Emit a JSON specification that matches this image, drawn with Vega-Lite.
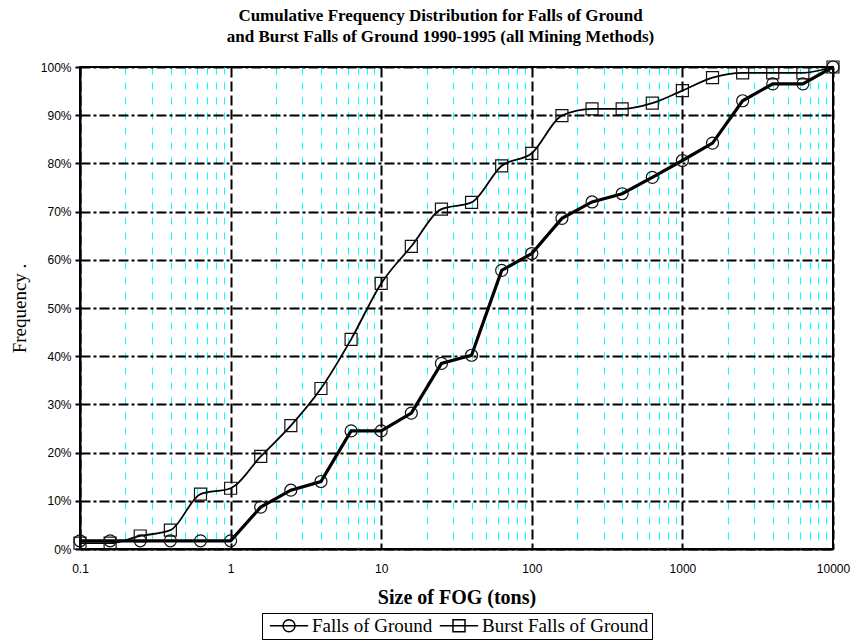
{
  "$schema": "https://vega.github.io/schema/vega-lite/v6.json",
  "width": 753,
  "height": 482,
  "autosize": {"type": "none"},
  "padding": {"left": 80, "top": 67, "right": 18, "bottom": 91},
  "background": "white",
  "config": {
    "view": {"stroke": "black", "strokeWidth": 2},
    "legend": {"labelFont": "Liberation Serif", "labelFontSize": 19, "labelColor": "black", "labelLimit": 400}
  },
  "title": {
    "text": ["Cumulative Frequency Distribution for Falls of Ground", "and Burst Falls of Ground 1990-1995 (all Mining Methods)"],
    "font": "Liberation Serif", "fontSize": 17, "fontWeight": "bold", "color": "black",
    "anchor": "middle", "frame": "group", "offset": 13, "lineHeight": 21, "dx": -16
  },
  "data": {"values": [
    {"size": 0.1, "series": "Falls of Ground", "freq": 0.017},
    {"size": 0.1585, "series": "Falls of Ground", "freq": 0.017},
    {"size": 0.2512, "series": "Falls of Ground", "freq": 0.017},
    {"size": 0.3981, "series": "Falls of Ground", "freq": 0.017},
    {"size": 0.631, "series": "Falls of Ground", "freq": 0.017},
    {"size": 1, "series": "Falls of Ground", "freq": 0.017},
    {"size": 1.585, "series": "Falls of Ground", "freq": 0.087},
    {"size": 2.512, "series": "Falls of Ground", "freq": 0.122},
    {"size": 3.981, "series": "Falls of Ground", "freq": 0.14},
    {"size": 6.31, "series": "Falls of Ground", "freq": 0.245},
    {"size": 10, "series": "Falls of Ground", "freq": 0.245},
    {"size": 15.85, "series": "Falls of Ground", "freq": 0.282},
    {"size": 25.12, "series": "Falls of Ground", "freq": 0.385},
    {"size": 39.81, "series": "Falls of Ground", "freq": 0.402},
    {"size": 63.1, "series": "Falls of Ground", "freq": 0.578},
    {"size": 100, "series": "Falls of Ground", "freq": 0.613},
    {"size": 158.5, "series": "Falls of Ground", "freq": 0.686},
    {"size": 251.2, "series": "Falls of Ground", "freq": 0.72},
    {"size": 398.1, "series": "Falls of Ground", "freq": 0.737},
    {"size": 631, "series": "Falls of Ground", "freq": 0.771},
    {"size": 1000, "series": "Falls of Ground", "freq": 0.806},
    {"size": 1585, "series": "Falls of Ground", "freq": 0.842},
    {"size": 2512, "series": "Falls of Ground", "freq": 0.93},
    {"size": 3981, "series": "Falls of Ground", "freq": 0.965},
    {"size": 6310, "series": "Falls of Ground", "freq": 0.965},
    {"size": 10000, "series": "Falls of Ground", "freq": 1.0},
    {"size": 0.1, "series": "Burst Falls of Ground", "freq": 0.012},
    {"size": 0.1585, "series": "Burst Falls of Ground", "freq": 0.012},
    {"size": 0.2512, "series": "Burst Falls of Ground", "freq": 0.027},
    {"size": 0.3981, "series": "Burst Falls of Ground", "freq": 0.039},
    {"size": 0.631, "series": "Burst Falls of Ground", "freq": 0.114},
    {"size": 1, "series": "Burst Falls of Ground", "freq": 0.126},
    {"size": 1.585, "series": "Burst Falls of Ground", "freq": 0.192},
    {"size": 2.512, "series": "Burst Falls of Ground", "freq": 0.256},
    {"size": 3.981, "series": "Burst Falls of Ground", "freq": 0.333},
    {"size": 6.31, "series": "Burst Falls of Ground", "freq": 0.435},
    {"size": 10, "series": "Burst Falls of Ground", "freq": 0.551},
    {"size": 15.85, "series": "Burst Falls of Ground", "freq": 0.628},
    {"size": 25.12, "series": "Burst Falls of Ground", "freq": 0.705},
    {"size": 39.81, "series": "Burst Falls of Ground", "freq": 0.719},
    {"size": 63.1, "series": "Burst Falls of Ground", "freq": 0.795},
    {"size": 100, "series": "Burst Falls of Ground", "freq": 0.821},
    {"size": 158.5, "series": "Burst Falls of Ground", "freq": 0.899},
    {"size": 251.2, "series": "Burst Falls of Ground", "freq": 0.913},
    {"size": 398.1, "series": "Burst Falls of Ground", "freq": 0.913},
    {"size": 631, "series": "Burst Falls of Ground", "freq": 0.925},
    {"size": 1000, "series": "Burst Falls of Ground", "freq": 0.951},
    {"size": 1585, "series": "Burst Falls of Ground", "freq": 0.978},
    {"size": 2512, "series": "Burst Falls of Ground", "freq": 0.988},
    {"size": 3981, "series": "Burst Falls of Ground", "freq": 0.988},
    {"size": 6310, "series": "Burst Falls of Ground", "freq": 0.988},
    {"size": 10000, "series": "Burst Falls of Ground", "freq": 1.0}
  ]},
  "encoding": {
    "x": {
      "field": "size", "type": "quantitative",
      "scale": {"type": "log", "domain": [0.1, 10000], "nice": false},
      "axis": {
        "values": [0.1,0.2,0.3,0.4,0.5,0.6,0.7,0.8,0.9,1,2,3,4,5,6,7,8,9,10,20,30,40,50,60,70,80,90,100,200,300,400,500,600,700,800,900,1000,2000,3000,4000,5000,6000,7000,8000,9000,10000],
        "format": "~g",
        "labelExpr": "abs(log(datum.value)/LN10 - round(log(datum.value)/LN10)) < 0.001 ? datum.label : ''",
        "grid": true,
        "gridColor": {"condition": {"test": "abs(log(datum.value)/LN10 - round(log(datum.value)/LN10)) < 0.001", "value": "black"}, "value": "#00FFFF"},
        "gridWidth": {"condition": {"test": "abs(log(datum.value)/LN10 - round(log(datum.value)/LN10)) < 0.001", "value": 2}, "value": 1},
        "gridDash": {"condition": {"test": "abs(log(datum.value)/LN10 - round(log(datum.value)/LN10)) < 0.001", "value": [10, 4]}, "value": [7, 8]},
        "gridOpacity": 1,
        "ticks": false,
        "domainColor": "black", "domainWidth": 2,
        "labelFont": "Liberation Sans", "labelFontSize": 12, "labelColor": "black",
        "labelPadding": 14, "labelOverlap": false, "labelFlush": false,
        "title": "Size of FOG (tons)",
        "titleFont": "Liberation Serif", "titleFontSize": 20, "titleFontWeight": "bold", "titleColor": "black",
        "titlePadding": 13
      }
    },
    "y": {
      "field": "freq", "type": "quantitative",
      "scale": {"domain": [0, 1], "nice": false},
      "axis": {
        "values": [0,0.1,0.2,0.3,0.4,0.5,0.6,0.7,0.8,0.9,1],
        "format": ".0%",
        "grid": true, "gridColor": "black", "gridWidth": 2, "gridDash": [10, 3, 3, 3], "gridOpacity": 1,
        "ticks": true, "tickSize": 5, "tickWidth": 2, "tickColor": "black",
        "domainColor": "black", "domainWidth": 2,
        "labelFont": "Liberation Sans", "labelFontSize": 12, "labelColor": "black", "labelPadding": 4,
        "title": "Frequency .",
        "titleFont": "Liberation Serif", "titleFontSize": 19, "titleFontWeight": "normal", "titleColor": "black",
        "titlePadding": 11
      }
    }
  },
  "layer": [
    {
      "transform": [{"filter": "datum.series === 'Falls of Ground'"}],
      "mark": {"type": "line", "color": "black", "strokeWidth": 3.2}
    },
    {
      "transform": [{"filter": "datum.series === 'Burst Falls of Ground'"}],
      "mark": {"type": "line", "color": "black", "strokeWidth": 1.8, "interpolate": "monotone"}
    },
    {
      "mark": {"type": "point", "filled": false, "size": 144, "strokeWidth": 1.2, "color": "#111", "opacity": 1},
      "encoding": {
        "shape": {
          "field": "series", "type": "nominal",
          "scale": {"domain": ["Falls of Ground", "Burst Falls of Ground"], "range": ["circle", "square"]},
          "legend": null
        }
      }
    },
    {
      "transform": [{"filter": "false"}],
      "mark": {"type": "point", "filled": false, "size": 144, "color": "black", "opacity": 1},
      "encoding": {
        "shape": {
          "field": "series", "type": "nominal",
          "scale": {"domain": ["Falls of Ground", "Burst Falls of Ground"], "range": ["M-3.2,0H3.2M-1,0A1,1,0,1,0,1,0A1,1,0,1,0,-1,0", "M-3.2,0H3.2M-1,-1H1V1H-1Z"]},
          "legend": {
            "orient": "none", "legendX": 182, "legendY": 546, "direction": "horizontal",
            "title": null,
            "labelFont": "Liberation Serif", "labelFontSize": 19, "labelColor": "black", "labelLimit": 400,
            "strokeColor": "black", "fillColor": "white", "padding": 3,
            "symbolOffset": 14.5, "labelOffset": 13.5, "columnPadding": 2, "symbolSize": 144,
            "symbolStrokeColor": "black", "symbolFillColor": "transparent", "symbolOpacity": 1
          }
        },
        "strokeWidth": {
          "field": "series", "type": "nominal",
          "scale": {"type": "ordinal", "domain": ["Falls of Ground", "Burst Falls of Ground"], "range": [2.6, 1.8]},
          "legend": {
            "orient": "none", "legendX": 182, "legendY": 546, "direction": "horizontal",
            "title": null,
            "labelFont": "Liberation Serif", "labelFontSize": 19, "labelColor": "black", "labelLimit": 400,
            "strokeColor": "black", "fillColor": "white", "padding": 3,
            "symbolOffset": 14.5, "labelOffset": 13.5, "columnPadding": 2, "symbolSize": 144,
            "symbolStrokeColor": "black", "symbolFillColor": "transparent", "symbolOpacity": 1
          }
        }
      }
    }
  ],
  "resolve": {"scale": {"shape": "independent"}, "legend": {"shape": "independent"}}
}
